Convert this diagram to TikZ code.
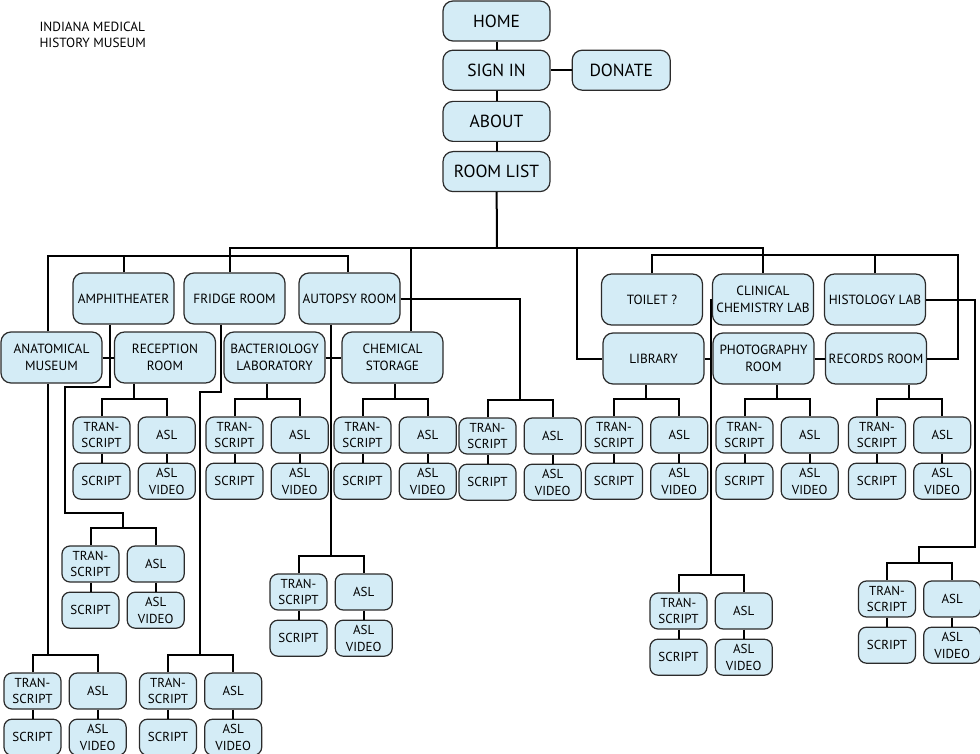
\documentclass[tikz,border=0pt]{standalone}
\usepackage{fontspec}
\setmainfont{PT Sans}
\usetikzlibrary{positioning}
\definecolor{roomfill}{HTML}{D4ECF6}
\definecolor{roomline}{HTML}{2B2B2B}
\tikzset{
link/.style={draw, line width=2pt},
pagebox/.style={rectangle, rounded corners=10pt, draw=roomline, line width=1.2pt, fill=roomfill, minimum width=107pt, minimum height=40pt, inner sep=1pt, font=\fontsize{17.5}{20}\selectfont, align=center},
roombox/.style={rectangle, rounded corners=10pt, draw=roomline, line width=1.2pt, fill=roomfill, minimum width=101pt, minimum height=51pt, inner sep=1pt, font=\fontsize{13.3}{16.7}\selectfont, align=center},
mediabox/.style={rectangle, rounded corners=8pt, draw=roomline, line width=1.2pt, fill=roomfill, minimum width=57pt, minimum height=36pt, inner sep=1pt, font=\fontsize{13}{16.5}\selectfont, align=center},
}
\begin{document}
\begin{tikzpicture}
[x=1pt, y=-1pt, node distance=9pt]
\useasboundingbox (0,0) rectangle (980,754);

\node[anchor=north west, align=left, font=\fontsize{13.3}{16}\selectfont] (museum) at (36,18) {INDIANA MEDICAL\\HISTORY MUSEUM};

% main pages
\node[pagebox] (home) at (496.5,21) {HOME};
\node[pagebox, below=8pt of home] (signin) {SIGN IN};
\node[pagebox, minimum width=98pt, right=21pt of signin] (donate) {DONATE};
\node[pagebox, below=10pt of signin] (about) {ABOUT};
\node[pagebox, below=9pt of about] (roomlist) {ROOM LIST};

% rooms
\node[roombox] (amphitheater) at (123.5,298.5) {AMPHITHEATER};
\node[roombox] (fridge) at (234.5,298.5) {FRIDGE ROOM};
\node[roombox] (autopsy) at (349.5,298.5) {AUTOPSY ROOM};
\node[roombox] (anatomical) at (51.5,357.5) {ANATOMICAL\\MUSEUM};
\node[roombox] (reception) at (165,357.5) {RECEPTION\\ROOM};
\node[roombox] (bacterio) at (274.5,357.5) {BACTERIOLOGY\\LABORATORY};
\node[roombox] (chemical) at (392.5,357.5) {CHEMICAL\\STORAGE};
\node[roombox] (toilet) at (652,299.5) {TOILET ?};
\node[roombox] (clinical) at (763,299.5) {CLINICAL\\CHEMISTRY LAB};
\node[roombox] (histology) at (875,299.5) {HISTOLOGY LAB};
\node[roombox] (library) at (653.5,358.5) {LIBRARY};
\node[roombox] (photography) at (763.5,358.5) {PHOTOGRAPHY\\ROOM};
\node[roombox] (records) at (876,358.5) {RECORDS ROOM};

% transcript / asl groups
\foreach \n/\x/\y in {reception/101.5/417, amphitheater/90.5/546, anatomical/32.5/673,
  fridge/168/673, bacterio/234.5/417, autopsyb/298.5/574, chemical/362.5/417,
  autopsyr/487.5/418, library/614/417, clinical/678.5/593, photography/744.5/417,
  records/877/417, histology/887/581}{
  \node[mediabox] (t-\n) at (\x,\y+18) {TRAN-\\SCRIPT};
  \node[mediabox, right=7pt of t-\n] (a-\n) {ASL};
  \node[mediabox, below=of t-\n] (s-\n) {SCRIPT};
  \node[mediabox, below=of a-\n] (v-\n) {ASL\\VIDEO};
  \coordinate (j-\n) at (\x+32,\y-18);
  \draw[link] (t-\n.north) |- (j-\n) -| (a-\n.north);
  \draw[link] (t-\n) -- (s-\n);
  \draw[link] (a-\n) -- (v-\n);
}

\coordinate (hub) at (497,248);
\coordinate (libturn) at (577,248);
\coordinate (westbus) at (200,256);
\coordinate (eastbus) at (958,255);
\coordinate (amphturn) at (65,387);
\coordinate (fridgeturn) at (200,392);
\coordinate (histturn) at (975,547);

\draw[link] (home) -- (signin) -- (about) -- (roomlist);
\draw[link] (signin) -- (donate);
\draw[link] (roomlist) -- (hub);
\draw[link] ([xshift=-5pt]fridge.north) |- (hub) -| (clinical.north);
\draw[link] ([xshift=18pt]chemical.north) -- ([xshift=18pt]chemical.north |- hub);
\draw[link] (library.west) -| (libturn);
\draw[link] ([xshift=-4pt]anatomical.north) |- (westbus) -| ([xshift=-2pt]autopsy.north);
\draw[link] (amphitheater.north) -- (amphitheater.north |- westbus);
\draw[link] (toilet.north) |- (eastbus) |- (records.east);
\draw[link] (histology.north) -- (histology.north |- eastbus);

\draw[link] (anatomical) -- (reception);
\draw[link] (bacterio) -- (chemical);
\draw[link] (library) -- (photography) -- (records);

\draw[link] ([xshift=-14pt]amphitheater.south) |- (amphturn) |- ([yshift=15pt]j-amphitheater) -- (j-amphitheater);
\draw[link] ([xshift=-14pt]fridge.south) |- (fridgeturn) -- (j-fridge);
\draw[link] ([xshift=-4pt]anatomical.south) -- ([xshift=-4pt]anatomical.south |- j-anatomical);
\draw[link] (j-autopsyb |- autopsy.south) -- (j-autopsyb);
\draw[link] (autopsy.east) -| (j-autopsyr);
\draw[link] (clinical.west) -| (j-clinical);
\draw[link] (histology.east) -| (histturn) -| (j-histology);
\foreach \n in {reception,bacterio,chemical,library,photography,records}
  \draw[link] (j-\n |- \n.south) -- (j-\n);

\end{tikzpicture}
\end{document}
